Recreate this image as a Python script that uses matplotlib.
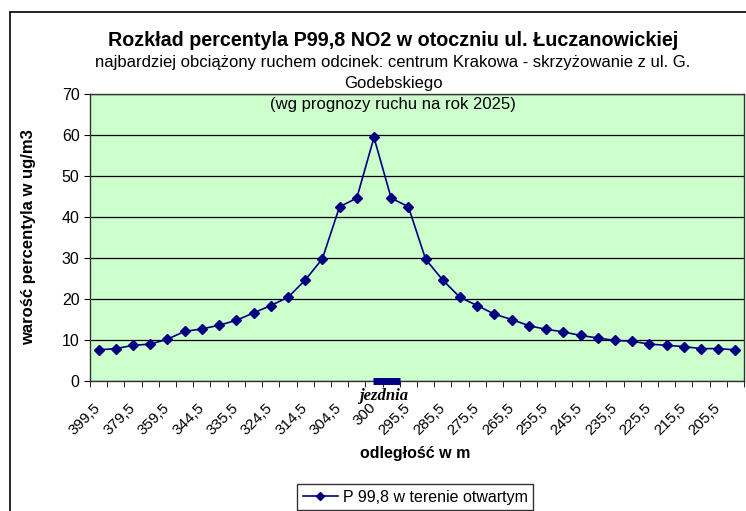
import matplotlib.pyplot as plt
import matplotlib.transforms as mtransforms
from matplotlib.patches import Rectangle

# dane
tick_labels = ['399,5', '379,5', '359,5', '344,5', '335,5', '324,5', '314,5',
               '304,5', '300', '295,5', '285,5', '275,5', '265,5', '255,5',
               '245,5', '235,5', '225,5', '215,5', '205,5']
p998 = [7.6, 7.9, 8.7, 9.0, 10.2, 12.1, 12.7, 13.6, 14.8, 16.6, 18.4, 20.4,
        24.6, 29.8, 42.5, 44.6, 59.4, 44.6, 42.5, 29.7, 24.6, 20.4, 18.4,
        16.3, 15.0, 13.5, 12.6, 12.0, 11.1, 10.5, 9.9, 9.7, 9.0, 8.7, 8.4,
        7.9, 7.9, 7.6]
series_name = 'P 99,8 w terenie otwartym'

plt.rcParams['font.family'] = ['Liberation Sans', 'DejaVu Sans']

fig = plt.figure(figsize=(7.46, 5.11), dpi=100)
W, H = 746, 511
ax = fig.add_axes([90 / W, 1 - 381 / H, (744 - 90) / W, (381 - 94) / H])
ax.set_facecolor('#CCFFCC')

x = list(range(len(p998)))
line, = ax.plot(x, p998, '-D', color='#000080', markersize=5.5, linewidth=1.2,
                label=series_name)

ax.set_xlim(-0.5, len(p998) - 0.5)
ax.set_ylim(0, 70)
ax.set_yticks(range(0, 71, 10))
ax.yaxis.grid(True, color='black', linewidth=0.9)
ax.set_axisbelow(True)
ax.tick_params(axis='y', labelsize=11.5, length=4, direction='out')

# etykiety co druga kategoria, kreski pomiedzy kategoriami
ax.set_xticks(range(0, len(p998), 2))
ax.set_xticklabels(tick_labels, rotation=45, ha='right', rotation_mode='anchor',
                   fontsize=11)
ax.tick_params(axis='x', length=0, pad=14)
shift = mtransforms.ScaledTranslation(-5 / 100, 0, fig.dpi_scale_trans)
for lab in ax.get_xticklabels():
    lab.set_transform(lab.get_transform() + shift)
ax.set_xticks([i - 0.5 for i in range(len(p998) + 1)], minor=True)
ax.tick_params(axis='x', which='minor', length=4, direction='out')

for s in ax.spines.values():
    s.set_linewidth(1.0)
    s.set_color('#333333')

# jezdnia
ax.plot([15.95, 17.5], [0, 0], color='#000080', linewidth=5, solid_capstyle='butt',
        clip_on=False, zorder=5)
ax.text(16.55, -3.6, 'jezdnia', ha='center', va='center', fontsize=12,
        fontstyle='italic', fontweight='bold', family='Liberation Serif')

ax.set_ylabel('warość percentyla w ug/m3', fontsize=12, fontweight='bold')
ax.yaxis.set_label_coords(-(90 - 36) / 654, 0.5)
ax.set_xlabel('odległość w m', fontsize=11.5, fontweight='bold')
ax.xaxis.set_label_coords((415 - 90) / 654, -(453 - 381) / 287)
ax.xaxis.label.set_va('center')

fig.text(393 / W, 1 - 40 / H, 'Rozkład percentyla P99,8 NO2 w otoczniu ul. Łuczanowickiej',
         ha='center', va='center', fontsize=14.2, fontweight='bold')
fig.text(393 / W, 1 - 62 / H,
         'najbardziej obciążony ruchem odcinek: centrum Krakowa - skrzyżowanie z ul. G.',
         ha='center', va='center', fontsize=12)
fig.text(393 / W, 1 - 83 / H, 'Godebskiego', ha='center', va='center', fontsize=12)
fig.text(393 / W, 1 - 104 / H, '(wg prognozy ruchu na rok 2025)', ha='center',
         va='center', fontsize=12)

fig.legend(handles=[line], loc='upper center', bbox_to_anchor=(415 / W, 1 - 484 / H),
           fontsize=11.5, frameon=True, fancybox=False, edgecolor='black',
           handlelength=2.2, handletextpad=0.3, borderpad=0.35, borderaxespad=0,
           markerscale=0.8)

# ramka calego wykresu
fig.patches.append(Rectangle((9.5 / W, -0.1), 1.2, 1 - 12 / H + 0.1,
                             transform=fig.transFigure, fill=False,
                             edgecolor='black', linewidth=1.2))

fig.savefig('out.png', dpi=100)
